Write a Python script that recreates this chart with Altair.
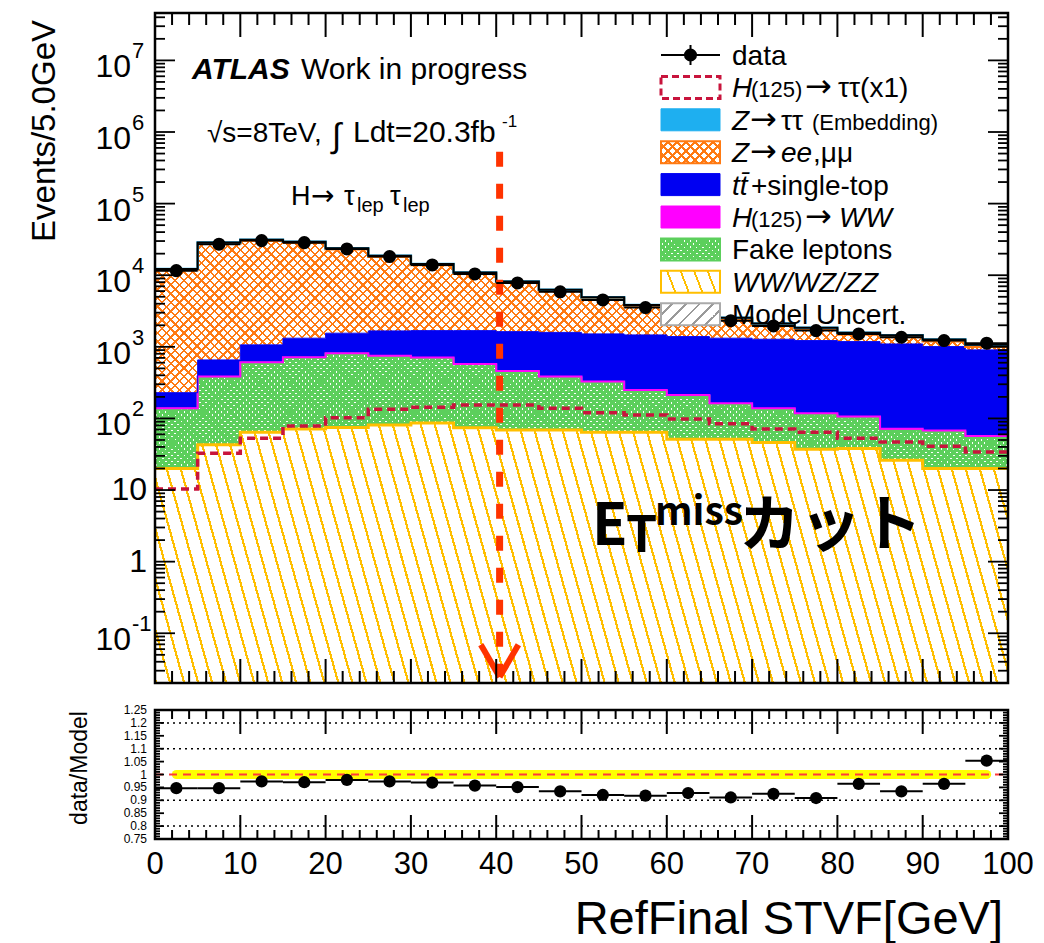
import math
import altair as alt
import pandas as pd

# ------------------------------------------------------------------ data
# 5 GeV bins of RefFinal STVF
bin_lo = list(range(0, 100, 5))
bin_hi = [b + 5 for b in bin_lo]
bin_mid = [b + 2.5 for b in bin_lo]

# expected events per bin, stacked from the bottom up
diboson = [20, 43, 64, 71, 75, 81, 86, 74, 69, 69, 64, 64, 51, 51, 46, 37, 38, 26, 20, 20]
fakes = [116, 335, 536, 634, 727, 659, 608, 491, 378, 305, 254, 178, 155, 106, 88, 76, 64, 42, 45, 34]
h_ww = [3, 6, 9, 11, 12, 13, 13, 12, 11, 10, 9, 8, 7, 6, 5, 5, 4, 4, 3, 3]
top = [90, 272, 456, 604, 736, 915, 976, 1106, 1172, 1206, 1188, 1216, 1177, 1157, 1137, 1104, 1077, 1025, 939, 849]
z_ll = [11611, 27064, 29205, 27110, 21430, 16382, 12177, 8797, 6240, 4420, 3175, 2199, 1466, 1097, 728, 531, 298, 274, 186, 95]
z_tautau = [400, 900, 1000, 950, 800, 650, 520, 420, 330, 270, 220, 180, 150, 130, 115, 100, 90, 85, 75, 65]
# H(125)->tautau signal, overlaid unstacked (x1)
h_tautau = [10.3, 32.7, 53, 78.5, 102, 134, 143, 154, 154, 139, 120, 112, 98, 84, 71, 64, 53, 47, 41, 34]
# observed events
observed = [11590, 27100, 30430, 28500, 23280, 18200, 13930, 10430, 7800, 5870,
            4520, 3530, 2790, 2320, 1960, 1684, 1514, 1361, 1222, 1123]

met_cut = 40.4          # position of the missing-ET cut marker

# tick labels
x_labels = [0, 10, 20, 30, 40, 50, 60, 70, 80, 90, 100]
y_exponents = [-1, 0, 1, 2, 3, 4, 5, 6, 7]
ratio_labels = [1.25, 1.2, 1.15, 1.1, 1.05, 1.0, 0.95, 0.9, 0.85, 0.8, 0.75]
ratio_grid = [0.8, 0.9, 1.1, 1.2]

# ------------------------------------------------------------------ layout
LEFT, TOP, RIGHT, BOTTOM = 155, 13, 36, 104
W = 853
H_ALL = 826      # both pads, top of main pad to bottom of ratio pad
H_MAIN = 670     # main pad occupies 0..670
R_TOP = 697      # ratio pad occupies 697..826

Y_MIN, Y_MAX = 0.0202, 4.59e7
LOG_LO, LOG_HI = math.log10(Y_MIN), math.log10(Y_MAX)

SANS = "Liberation Sans, Arial, Helvetica, sans-serif"
ARROW = "DejaVu Sans, sans-serif"
CJK = "Noto Sans CJK JP, sans-serif"

C_DIBOSON = "#ffbf00"
C_FAKE = "#5ccf5c"
C_HWW = "#ff00ff"
C_TOP = "#0000f2"
C_ZLL = "#ff7a12"
C_ZTT = "#1eaff0"
C_SIG = "#c8143c"
C_CUT = "#ff3300"
CLEAR = "rgba(255,255,255,0)"

XS = alt.Scale(domain=[0, 100], nice=False, zero=False)
YS = alt.Scale(type="log", domain=[Y_MIN, Y_MAX], range=[H_MAIN, 0], nice=False)
RS = alt.Scale(domain=[0.75, 1.25], range=[H_ALL, R_TOP], nice=False, zero=False)


def ypx(v):
    return H_MAIN * (LOG_HI - math.log10(v)) / (LOG_HI - LOG_LO)


def hatch(w, h, dx, dy, period, ink_w, ink, paper):
    """Striped linear gradient for a w x h box; stripes run along (dx, dy) in pixels."""
    gx, gy = dy / h, -dx / w
    corners = [(0.0, 0.0), (1.0, 0.0), (0.0, 1.0), (1.0, 1.0)]
    proj = [cx * gx + cy * gy for cx, cy in corners]
    ax, ay = corners[min(range(4), key=lambda i: proj[i])]
    k = (max(proj) - min(proj)) / (gx * gx + gy * gy)
    norm = math.hypot(dx, dy)
    across = [(cx * w * dy - cy * h * dx) / norm for cx, cy in corners]
    n = max(1, round((max(across) - min(across)) / period))
    f = ink_w / period
    stops = []
    for i in range(n):
        a, b, c = round(i / n, 6), round((i + f) / n, 6), round((i + 1) / n, 6)
        stops += [{"offset": a, "color": ink}, {"offset": b, "color": ink},
                  {"offset": b, "color": paper}, {"offset": c, "color": paper}]
    return {"gradient": "linear", "x1": ax, "y1": ay,
            "x2": ax + k * gx, "y2": ay + k * gy, "stops": stops}


# ------------------------------------------------------------------ stack
x_step = bin_lo + [100]


def steps(vals):
    return list(vals) + [vals[-1]]


names = ["diboson", "fakes", "h_ww", "top", "z_ll", "z_tautau"]
band = {}
run = [0.0] * len(bin_lo)
for name, comp in zip(names, [diboson, fakes, h_ww, top, z_ll, z_tautau]):
    lo = [max(v, Y_MIN) for v in run]
    run = [a + b for a, b in zip(run, comp)]
    band[name] = pd.DataFrame({"x": x_step, "lo": steps(lo), "hi": steps(run)})
total = run
ratio = [o / t for o, t in zip(observed, total)]


def box(name):
    d = band[name]
    return W, max(ypx(v) for v in d["lo"]) - min(ypx(v) for v in d["hi"])


def area(name, fill):
    return alt.Chart(band[name]).mark_area(interpolate="step-after", fill=fill, opacity=1).encode(
        x=alt.X("x:Q", scale=XS, axis=None),
        y=alt.Y("hi:Q", scale=YS, axis=None),
        y2="lo:Q")


def edge(name, color, width):
    return alt.Chart(band[name]).mark_line(interpolate="step-after", color=color, strokeWidth=width).encode(
        x=alt.X("x:Q", scale=XS, axis=None),
        y=alt.Y("hi:Q", scale=YS, axis=None))


w0, h0 = box("diboson")
wf, hf = box("fakes")
wz, hz = box("z_ll")

main_layers = [
    area("diboson", hatch(w0, h0, 1, 3.6, 13.5, 2.2, C_DIBOSON, "white")),
    area("fakes", hatch(wf, hf, 1, 1, 4.4, 3.1, C_FAKE, CLEAR)),
    area("fakes", hatch(wf, hf, 1, -1, 4.4, 3.1, C_FAKE, CLEAR)),
    area("h_ww", C_HWW),
    area("top", C_TOP),
    area("z_ll", hatch(wz, hz, 1, 1, 6.2, 1.7, C_ZLL, "white")),
    area("z_ll", hatch(wz, hz, 1, -1, 6.2, 1.7, C_ZLL, CLEAR)),
    area("z_tautau", C_ZTT),
    edge("diboson", C_DIBOSON, 3),
    edge("fakes", C_FAKE, 2),
    edge("h_ww", C_HWW, 2),
    edge("top", C_TOP, 1),
    edge("z_ll", C_ZLL, 2.5),
    edge("z_tautau", C_ZTT, 2.5),
    edge("z_tautau", "black", 2),
]

# signal overlay
sig_df = pd.DataFrame({"x": x_step, "y": steps(h_tautau)})
main_layers.append(
    alt.Chart(sig_df).mark_line(interpolate="step-after", color=C_SIG, strokeWidth=3.5, strokeDash=[8, 5]).encode(
        x=alt.X("x:Q", scale=XS, axis=None), y=alt.Y("y:Q", scale=YS, axis=None)))

# cut marker: dashed line ending in an arrow head
cut_df = pd.DataFrame({"x": [met_cut], "top": [5.3e5], "tip": [0.0255]})
main_layers.append(
    alt.Chart(cut_df).mark_rule(color=C_CUT, strokeWidth=7, strokeDash=[15, 17]).encode(
        x=alt.X("x:Q", scale=XS, axis=None), y=alt.Y("top:Q", scale=YS, axis=None), y2="tip:Q"))
arrow_df = pd.DataFrame({"x": [met_cut - 2.2, met_cut + 2.2], "y": [0.069, 0.069],
                         "x2": [met_cut, met_cut], "y2": [0.0245, 0.0245]})
main_layers.append(
    alt.Chart(arrow_df).mark_rule(color=C_CUT, strokeWidth=6).encode(
        x=alt.X("x:Q", scale=XS, axis=None), x2="x2:Q",
        y=alt.Y("y:Q", scale=YS, axis=None), y2="y2:Q"))

# observed data
obs_df = pd.DataFrame({"lo": bin_lo, "hi": bin_hi, "c": bin_mid, "n": observed, "r": ratio})
main_layers.append(
    alt.Chart(obs_df).mark_rule(color="black", strokeWidth=2).encode(
        x=alt.X("lo:Q", scale=XS, axis=None), x2="hi:Q", y=alt.Y("n:Q", scale=YS, axis=None)))
main_layers.append(
    alt.Chart(obs_df).mark_circle(color="black", size=170, opacity=1).encode(
        x=alt.X("c:Q", scale=XS, axis=None), y=alt.Y("n:Q", scale=YS, axis=None)))

# frame and inward ticks of the main pad
one = alt.Data(values=[{}])


def frame(y0, y1):
    return alt.Chart(one).mark_rect(fill="white", fillOpacity=0, stroke="black", strokeWidth=2.5).encode(
        x=alt.value(0), x2=alt.value(W), y=alt.value(y0), y2=alt.value(y1))


def xticks(vals, y, length):
    return alt.Chart(pd.DataFrame({"v": vals})).mark_rule(color="black", strokeWidth=2).encode(
        x=alt.X("v:Q", scale=XS, axis=None), y=alt.value(y), y2=alt.value(y + length))


x_major = list(range(0, 101, 10))
x_minor = [v for v in range(0, 101, 2) if v % 10]
log_major = [10.0 ** e for e in range(-1, 8)]
log_minor = [m * 10.0 ** e for e in range(-2, 8) for m in range(2, 10) if Y_MIN <= m * 10.0 ** e <= Y_MAX]


def yticks(vals, scale, x0, length):
    return alt.Chart(pd.DataFrame({"v": vals})).mark_rule(color="black", strokeWidth=1.8).encode(
        y=alt.Y("v:Q", scale=scale, axis=None), x=alt.value(x0), x2=alt.value(x0 + length))


main_layers += [
    frame(0, H_MAIN),
    xticks(x_major, H_MAIN, -24), xticks(x_minor, H_MAIN, -12),
    xticks(x_major, 0, 24), xticks(x_minor, 0, 12),
    yticks(log_major, YS, 0, 20), yticks(log_minor, YS, 0, 10),
    yticks(log_major, YS, W, -20), yticks(log_minor, YS, W, -10),
]

# y tick labels of the main pad: 10 with a raised exponent
ylab = pd.DataFrame({
    "v": [10.0 ** e for e in y_exponents],
    "base": ["1" if e == 0 else "10" for e in y_exponents],
    "sup": ["" if e in (0, 1) else str(e) for e in y_exponents],
})
with_sup = ylab[ylab["sup"] != ""]
no_sup = ylab[ylab["sup"] == ""]
main_layers += [
    alt.Chart(with_sup).mark_text(font=SANS, fontSize=32, align="right", baseline="middle", dy=7).encode(
        x=alt.value(131 - LEFT), y=alt.Y("v:Q", scale=YS, axis=None), text="base:N"),
    alt.Chart(with_sup).mark_text(font=SANS, fontSize=22, align="left", baseline="middle", dy=-9).encode(
        x=alt.value(132 - LEFT), y=alt.Y("v:Q", scale=YS, axis=None), text="sup:N"),
    alt.Chart(no_sup).mark_text(font=SANS, fontSize=32, align="right", baseline="middle").encode(
        x=alt.value(147 - LEFT), y=alt.Y("v:Q", scale=YS, axis=None), text="base:N"),
]

# ------------------------------------------------------------------ legend
row_y = [55 + 32.4 * i for i in range(9)]
SW0, SW1 = 661, 720


def swatch(i, **mk):
    y = row_y[i] - TOP
    df = pd.DataFrame({"x0": [SW0 - LEFT], "x1": [SW1 - LEFT], "y0": [y - 11], "y1": [y + 11]})
    return alt.Chart(df).mark_rect(**mk).encode(
        x=alt.X("x0:Q", scale=None), x2="x1:Q", y=alt.Y("y0:Q", scale=None), y2="y1:Q")


SWW, SWH = SW1 - SW0, 22
legend_layers = [
    # data marker
    alt.Chart(one).mark_rule(color="black", strokeWidth=2).encode(
        x=alt.value(SW0 - LEFT), x2=alt.value(SW1 - LEFT), y=alt.value(row_y[0] - TOP)),
    alt.Chart(one).mark_rule(color="black", strokeWidth=2).encode(
        x=alt.value(690.5 - LEFT), y=alt.value(row_y[0] - TOP - 10), y2=alt.value(row_y[0] - TOP + 10)),
    alt.Chart(one).mark_circle(color="black", size=170, opacity=1).encode(
        x=alt.value(690.5 - LEFT), y=alt.value(row_y[0] - TOP)),
    swatch(1, fill="white", fillOpacity=0, stroke=C_SIG, strokeWidth=3, strokeDash=[7, 4]),
    swatch(2, fill=C_ZTT, stroke=C_ZTT, strokeWidth=1),
    swatch(3, fill=hatch(SWW, SWH, 1, 1, 6.2, 1.7, C_ZLL, "white")),
    swatch(3, fill=hatch(SWW, SWH, 1, -1, 6.2, 1.7, C_ZLL, CLEAR), stroke=C_ZLL, strokeWidth=2),
    swatch(4, fill=C_TOP, stroke=C_TOP, strokeWidth=1),
    swatch(5, fill=C_HWW, stroke=C_HWW, strokeWidth=1),
    swatch(6, fill=hatch(SWW, SWH, 1, 1, 4.4, 3.1, C_FAKE, CLEAR)),
    swatch(6, fill=hatch(SWW, SWH, 1, -1, 4.4, 3.1, C_FAKE, CLEAR), stroke=C_FAKE, strokeWidth=2),
    swatch(7, fill=hatch(SWW, SWH, 1, 2.6, 13.5, 2.0, C_DIBOSON, "white"), stroke=C_DIBOSON, strokeWidth=2),
    swatch(8, fill=hatch(SWW, SWH, 1, -1, 9, 1.8, "#9a9a9a", "white"), stroke="#aaaaaa", strokeWidth=2),
]

# ------------------------------------------------------------------ texts
items = []


def put(t, x, y, size, font=SANS, weight="normal", style="normal", align="left",
        baseline="alphabetic", angle=0):
    items.append(dict(t=t, px=x - LEFT, py=y - TOP, fs=size, font=font, weight=weight,
                      style=style, align=align, baseline=baseline, angle=angle))


# (text, x, size, style, font)
legend_rows = [
    [("data", 732, 28, "normal", SANS)],
    [("H", 732, 28, "italic", SANS), ("(125)", 751, 22, "normal", SANS),
     ("→", 805, 32, "normal", ARROW), ("ττ(x1)", 838, 28, "normal", SANS)],
    [("Z", 732, 28, "italic", SANS), ("→", 750, 32, "normal", ARROW),
     ("ττ", 781, 28, "normal", SANS), ("(Embedding)", 812, 22, "normal", SANS)],
    [("Z", 732, 28, "italic", SANS), ("→", 750, 32, "normal", ARROW),
     ("ee", 781, 28, "italic", SANS), (",μμ", 813, 28, "normal", SANS)],
    [("tt̄", 732, 28, "italic", SANS), ("+single-top", 751, 28, "normal", SANS)],
    [("H", 732, 28, "italic", SANS), ("(125)", 751, 22, "normal", SANS),
     ("→", 805, 32, "normal", ARROW), ("WW", 839, 28, "italic", SANS)],
    [("Fake leptons", 732, 28, "normal", SANS)],
    [("WW/WZ/ZZ", 732, 28, "italic", SANS)],
    [("Model Uncert.", 732, 28, "normal", SANS)],
]
for yc, segs in zip(row_y, legend_rows):
    for t, x, s, st, fnt in segs:
        put(t, x, yc + 10, s, font=fnt, style=st)

put("ATLAS", 192, 79, 30, weight="bold", style="italic")
put("Work in progress", 301, 79, 30)
put("√s=8TeV,", 207, 142, 28)
put("∫", 332, 147, 34)
put("Ldt=20.3fb", 353, 142, 30)
put("-1", 502, 127, 17)
put("H", 291, 205, 27)
put("→", 311, 205, 28, font=ARROW)
put("τ", 344, 205, 27)
put("lep", 357, 212, 20)
put("τ", 390, 205, 27)
put("lep", 403, 212, 20)

put("E", 592, 545, 58, font=CJK, weight="bold")
put("T", 626, 552, 50, font=CJK, weight="bold")
put("miss", 655, 525, 39, font=CJK, weight="bold")
put("カット", 739, 546, 61, font=CJK, weight="bold")

put("Events/5.0GeV", 45, 20, 33, align="right", baseline="middle", angle=270)
put("data/Model", 80, 768, 23, align="center", baseline="middle", angle=270)
put("RefFinal STVF[GeV]", 1003, 934, 47, align="right")

text_df = pd.DataFrame(items)
text_layers = []
for key, grp in text_df.groupby(["font", "weight", "style", "align", "baseline", "angle"], sort=False):
    font, weight, style, align, baseline, angle = key
    text_layers.append(
        alt.Chart(grp[["t", "px", "py", "fs"]]).mark_text(
            font=font, fontWeight=weight, fontStyle=style, align=align,
            baseline=baseline, angle=int(angle), color="black").encode(
            x=alt.X("px:Q", scale=None), y=alt.Y("py:Q", scale=None),
            size=alt.Size("fs:Q", scale=None, legend=None), text="t:N"))

main = alt.layer(*(main_layers + legend_layers + text_layers))

# ------------------------------------------------------------------ ratio pad
grid_df = pd.DataFrame({"g": ratio_grid})
band_df = pd.DataFrame({"a": [2.5], "b": [97.5], "r": [1.0]})
unity_df = pd.DataFrame({"r": [1.0]})
r_major = [round(0.75 + 0.05 * i, 2) for i in range(11)]
r_minor = [round(0.75 + 0.01 * i, 2) for i in range(51) if i % 5]
rlab_df = pd.DataFrame({"v": ratio_labels, "t": [f"{v:g}" for v in ratio_labels]})
xlab_df = pd.DataFrame({"v": x_labels, "t": [str(v) for v in x_labels]})

ratio_layers = [
    alt.Chart(grid_df).mark_rule(color="black", strokeWidth=1.5, strokeDash=[2, 4]).encode(
        x=alt.value(0), x2=alt.value(W), y=alt.Y("g:Q", scale=RS, axis=None)),
    alt.Chart(band_df).mark_rule(color="#ffff00", strokeWidth=9, strokeCap="round").encode(
        x=alt.X("a:Q", scale=XS, axis=None), x2="b:Q", y=alt.Y("r:Q", scale=RS, axis=None)),
    alt.Chart(unity_df).mark_rule(color="#ff3b3b", strokeWidth=2, strokeDash=[8, 6]).encode(
        x=alt.value(0), x2=alt.value(W), y=alt.Y("r:Q", scale=RS, axis=None)),
    alt.Chart(obs_df).mark_rule(color="black", strokeWidth=2).encode(
        x=alt.X("lo:Q", scale=XS, axis=None), x2="hi:Q", y=alt.Y("r:Q", scale=RS, axis=None)),
    alt.Chart(obs_df).mark_circle(color="black", size=150, opacity=1).encode(
        x=alt.X("c:Q", scale=XS, axis=None), y=alt.Y("r:Q", scale=RS, axis=None)),
    frame(R_TOP, H_ALL),
    xticks(x_major, H_ALL, -24), xticks(x_minor, H_ALL, -9),
    xticks(x_major, R_TOP, 24), xticks(x_minor, R_TOP, 9),
    yticks(r_major, RS, 0, 9), yticks(r_minor, RS, 0, 5),
    yticks(r_major, RS, W, -9), yticks(r_minor, RS, W, -5),
    alt.Chart(rlab_df).mark_text(font=SANS, fontSize=12, align="right", baseline="middle").encode(
        x=alt.value(147 - LEFT), y=alt.Y("v:Q", scale=RS, axis=None), text="t:N"),
    alt.Chart(xlab_df).mark_text(font=SANS, fontSize=31, align="center", baseline="alphabetic").encode(
        x=alt.X("v:Q", scale=XS, axis=None), y=alt.value(874 - TOP), text="t:N"),
]
ratio_pad = alt.layer(*ratio_layers)

chart = alt.layer(main, ratio_pad).resolve_scale(y="independent").properties(
    width=W, height=H_ALL,
    padding={"left": LEFT, "top": TOP, "right": RIGHT, "bottom": BOTTOM},
    autosize=alt.AutoSizeParams(type="none"),
    background="white",
).configure_view(strokeWidth=0)

chart.save("out.html", embed_options={"renderer": "svg", "actions": False})
